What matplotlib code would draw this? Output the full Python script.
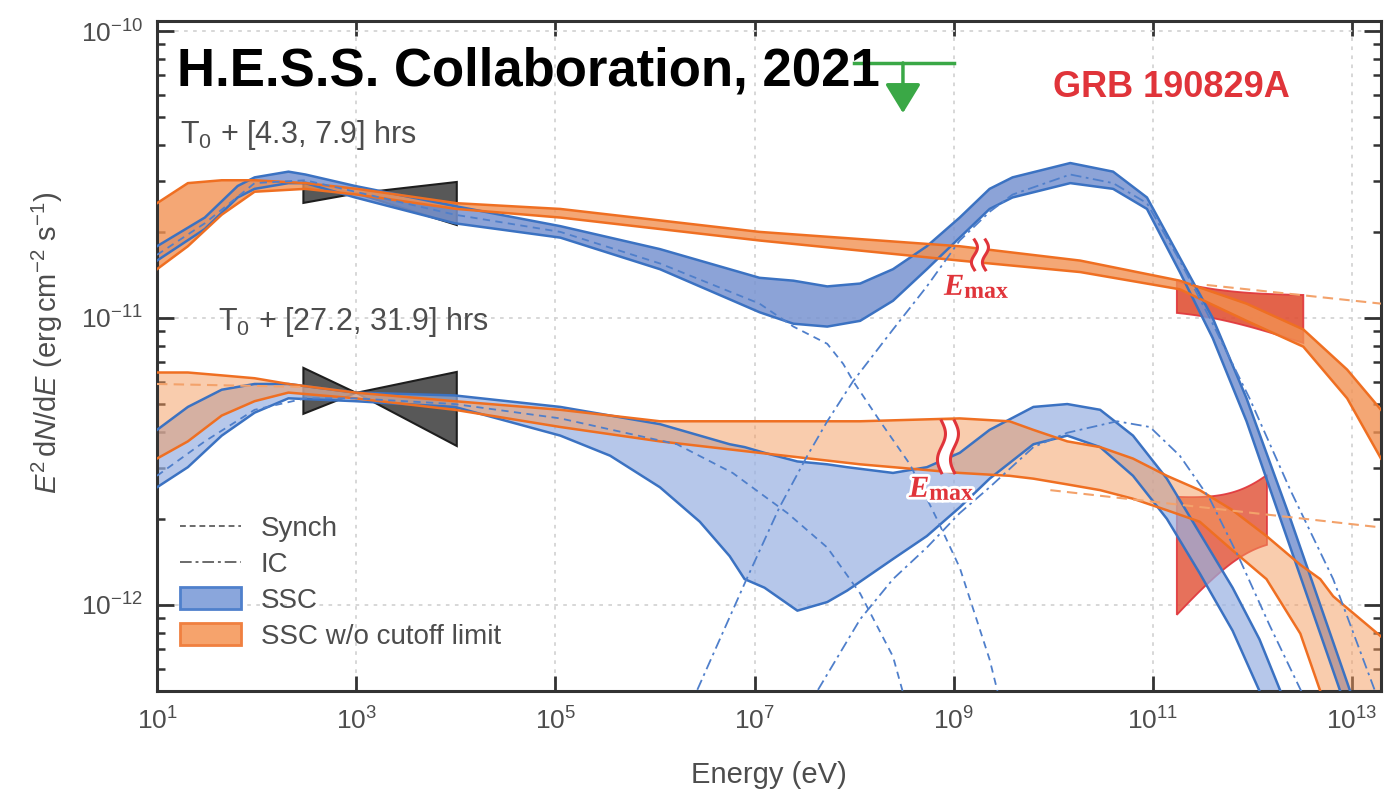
import numpy as np
import matplotlib
matplotlib.use('Agg')
import matplotlib.pyplot as plt
from matplotlib.patches import Patch, Polygon
from matplotlib.lines import Line2D
from matplotlib.transforms import ScaledTranslation
from matplotlib.ticker import FixedLocator, NullLocator, LogLocator, NullFormatter, FuncFormatter
import matplotlib.patheffects as pe

plt.rcParams['font.family'] = ['Liberation Sans', 'DejaVu Sans']
plt.rcParams['mathtext.fontset'] = 'custom'
plt.rcParams['mathtext.rm'] = 'Liberation Sans'
plt.rcParams['mathtext.it'] = 'Liberation Sans:italic'
plt.rcParams['mathtext.bf'] = 'Liberation Sans:bold'

# ------------------------------------------------------------------
# Data: log10(E / eV) and log10(E^2 dN/dE / erg cm^-2 s^-1)
# ------------------------------------------------------------------
# Epoch 1: T0 + [4.3, 7.9] hrs
ep1_nocut_loge = [1.00, 1.31, 1.65, 1.98, 2.49, 3.01, 4.01, 5.05, 7.05, 9.06,
                  10.27, 11.27, 11.94, 12.51, 12.95, 13.29]
ep1_nocut_hi = [-10.60, -10.53, -10.52, -10.52, -10.53, -10.55, -10.60, -10.62, -10.70, -10.75,
                -10.80, -10.87, -10.95, -11.04, -11.18, -11.32]
ep1_nocut_lo = [-10.83, -10.75, -10.64, -10.56, -10.55, -10.57, -10.62, -10.65, -10.73, -10.80,
                -10.84, -10.90, -11.01, -11.10, -11.28, -11.49]

ep1_ssc_loge = [1.00, 1.48, 1.81, 1.98, 2.32, 2.49, 2.99, 3.99, 5.05, 6.05, 7.05, 7.39, 7.73,
                8.06, 8.39, 8.73, 9.06, 9.36, 9.59, 10.17, 10.60, 10.94, 11.27, 11.60, 11.94,
                12.38, 12.88, 13.13]
ep1_ssc_hi = [-10.75, -10.65, -10.54, -10.51, -10.49, -10.50, -10.54, -10.61, -10.68, -10.76,
              -10.86, -10.87, -10.89, -10.88, -10.83, -10.75, -10.65, -10.55, -10.51, -10.46,
              -10.49, -10.58, -10.79, -11.00, -11.28, -11.70, -12.20, -12.45]
ep1_ssc_lo = [-10.80, -10.69, -10.58, -10.55, -10.53, -10.53, -10.58, -10.67, -10.72, -10.83,
              -10.98, -11.02, -11.03, -11.01, -10.94, -10.83, -10.72, -10.62, -10.58, -10.53,
              -10.55, -10.62, -10.84, -11.07, -11.36, -11.80, -12.30, -12.56]

ep1_syn_loge = [1.00, 1.48, 1.98, 2.49, 2.99, 3.99, 5.05, 6.05, 7.05, 7.39, 7.73, 7.89, 7.99,
                8.26, 8.56, 8.83, 9.06, 9.36, 9.46]
ep1_syn = [-10.78, -10.67, -10.53, -10.52, -10.56, -10.64, -10.70, -10.81, -10.95, -11.03,
           -11.09, -11.16, -11.22, -11.36, -11.51, -11.70, -11.87, -12.19, -12.33]

ep1_ic_loge = [6.35, 6.42, 6.92, 7.25, 7.53, 7.73, 7.99, 8.39, 8.73, 9.06, 9.36, 9.59, 10.17,
               10.60, 10.94, 11.27, 11.60, 11.97, 12.38, 12.81, 13.23, 13.33]
ep1_ic = [-12.37, -12.30, -11.91, -11.66, -11.48, -11.36, -11.22, -11.04, -10.89, -10.73,
          -10.63, -10.57, -10.50, -10.53, -10.60, -10.80, -11.02, -11.28, -11.60, -11.91,
          -12.30, -12.40]

ep1_nocut_ext_loge = [11.54, 13.29]
ep1_nocut_ext = [-10.885, -10.95]

# Epoch 2: T0 + [27.2, 31.9] hrs
ep2_nocut_loge = [1.00, 1.31, 1.65, 1.98, 2.32, 2.99, 3.99, 5.05, 6.05, 7.05, 8.06, 9.06, 9.56,
                  9.80, 10.14, 10.47, 10.80, 11.14, 11.47, 11.80, 12.14, 12.48, 12.68, 12.81, 13.29]
ep2_nocut_hi = [-11.19, -11.19, -11.20, -11.21, -11.23, -11.26, -11.29, -11.32, -11.36, -11.36,
                -11.36, -11.35, -11.36, -11.39, -11.43, -11.45, -11.49, -11.55, -11.60, -11.67,
                -11.76, -11.86, -11.91, -11.97, -12.11]
ep2_nocut_lo = [-11.49, -11.43, -11.34, -11.29, -11.26, -11.28, -11.32, -11.38, -11.43, -11.47,
                -11.51, -11.54, -11.55, -11.56, -11.58, -11.60, -11.63, -11.67, -11.71, -11.81,
                -11.91, -12.10, -12.30, -12.40, -12.85]

ep2_ssc_loge = [1.00, 1.31, 1.65, 1.98, 2.32, 2.99, 3.99, 5.05, 5.55, 6.05, 6.45, 6.75, 6.90,
                7.10, 7.43, 7.73, 7.93, 8.39, 8.73, 9.06, 9.36, 9.80, 10.14, 10.47, 10.80,
                11.14, 11.47, 11.80, 12.07, 12.28, 12.48]
ep2_ssc_hi = [-11.39, -11.31, -11.25, -11.23, -11.23, -11.26, -11.27, -11.31, -11.34, -11.37,
              -11.41, -11.44, -11.45, -11.47, -11.50, -11.51, -11.52, -11.54, -11.52, -11.47,
              -11.39, -11.31, -11.30, -11.32, -11.41, -11.56, -11.75, -11.94, -12.12, -12.30,
              -12.49]
ep2_ssc_lo = [-11.59, -11.52, -11.41, -11.33, -11.28, -11.29, -11.31, -11.41, -11.48, -11.59,
              -11.71, -11.83, -11.91, -11.94, -12.02, -11.99, -11.95, -11.84, -11.76, -11.66,
              -11.56, -11.44, -11.41, -11.45, -11.55, -11.70, -11.89, -12.09, -12.30, -12.49,
              -12.68]

ep2_syn_loge = [1.00, 1.48, 1.98, 2.49, 2.99, 3.99, 5.05, 6.22, 6.78, 7.33, 7.73, 8.06, 8.39, 8.51]
ep2_syn = [-11.55, -11.43, -11.32, -11.28, -11.28, -11.30, -11.35, -11.44, -11.54, -11.68,
           -11.80, -11.96, -12.18, -12.33]

ep2_ic_loge = [7.56, 7.63, 8.06, 8.39, 8.73, 9.06, 9.36, 9.80, 10.14, 10.64, 10.97, 11.27,
               11.57, 11.87, 12.17, 12.53]
ep2_ic = [-12.37, -12.30, -12.05, -11.91, -11.80, -11.68, -11.59, -11.45, -11.40, -11.36,
          -11.38, -11.48, -11.63, -11.84, -12.07, -12.33]

ep2_nocut_ext_loge = [9.97, 13.29]
ep2_nocut_ext = [-11.60, -11.73]
ep2_nocut_low_loge = [1.00, 2.44]
ep2_nocut_low = [-11.23, -11.24]

# X-ray bow-ties: [log Emin, log Epivot, log Emax], fluxes (left hi, left lo, pivot, right hi, right lo)
xrt_loge = [2.47, 3.00, 4.01]
xrt1_flux = [-10.526, -10.599, -10.566, -10.526, -10.676]
xrt2_flux = [-11.174, -11.334, -11.261, -11.188, -11.446]

# H.E.S.S. butterflies: log Emin, log Emax, log Epivot, log F(pivot), slope, sigma_norm, sigma_slope
hess1 = dict(emin=11.24, emax=12.51, epiv=11.52, fpiv=-10.945, slope=-0.059, sn=0.0506, ss=0.0675)
hess2 = dict(emin=11.24, emax=12.145, epiv=11.974, fpiv=-11.699, slope=0.177, sn=0.1154, ss=0.232)

# Fermi-LAT upper limit
ul_emin, ul_emax, ul_ecen = 1e8, 1e9, 10**8.49
ul_flux = 10**-10.111
ul_tip = 10**-10.286

# E_max markers (log E, log F)
emax1 = (9.263, -10.780)
emax2 = (8.942, -11.449)

# ------------------------------------------------------------------
BLUE = '#3b72c2'
BLUE_FILL1 = '#7893d0'
BLUE_FILL2 = '#97b0e2'
ORANGE = '#ef6f22'
ORANGE_FILL = '#f59a5c'
RED = '#e0343a'
GREEN = '#3aa846'
GREY_TXT = '#4d4d4d'

fig = plt.figure(figsize=(14, 7.97), dpi=100)
ax = fig.add_axes([157 / 1400, 1 - 691 / 797, 1224 / 1400, 670 / 797])
ax.set_xscale('log')
ax.set_yscale('log')


def p(v):
    return 10.0 ** np.asarray(v, dtype=float)


def band(loge, lo, hi, fill, alpha):
    e = p(loge)
    ax.fill_between(e, p(lo), p(hi), facecolor=fill, alpha=alpha, lw=0, zorder=2)
    return e


# SSC bands
e = band(ep1_ssc_loge, ep1_ssc_lo, ep1_ssc_hi, BLUE_FILL1, 0.85)
e2 = band(ep2_ssc_loge, ep2_ssc_lo, ep2_ssc_hi, BLUE_FILL2, 0.7)
# SSC without cutoff limit
eo1 = band(ep1_nocut_loge, ep1_nocut_lo, ep1_nocut_hi, '#f29152', 0.8)
eo2 = band(ep2_nocut_loge, ep2_nocut_lo, ep2_nocut_hi, ORANGE_FILL, 0.5)

for ee, lo, hi in [(e, ep1_ssc_lo, ep1_ssc_hi), (e2, ep2_ssc_lo, ep2_ssc_hi)]:
    ax.plot(ee, p(lo), color=BLUE, lw=1.8, zorder=4)
    ax.plot(ee, p(hi), color=BLUE, lw=1.8, zorder=4)
for ee, lo, hi in [(eo1, ep1_nocut_lo, ep1_nocut_hi), (eo2, ep2_nocut_lo, ep2_nocut_hi)]:
    ax.plot(ee, p(lo), color=ORANGE, lw=1.8, zorder=4)
    ax.plot(ee, p(hi), color=ORANGE, lw=1.8, zorder=4)

# Synchrotron and IC components
for le, f in [(ep1_syn_loge, ep1_syn), (ep2_syn_loge, ep2_syn)]:
    ax.plot(p(le), p(f), color='#4f7fcb', lw=1.3, ls=(0, (4, 3)), zorder=4.5)
for le, f in [(ep1_ic_loge, ep1_ic), (ep2_ic_loge, ep2_ic)]:
    ax.plot(p(le), p(f), color='#4f7fcb', lw=1.3, ls=(0, (6, 2.5, 1.5, 2.5)), zorder=4.5)

# No-cutoff continuations
for le, f in [(ep1_nocut_ext_loge, ep1_nocut_ext), (ep2_nocut_ext_loge, ep2_nocut_ext),
              (ep2_nocut_low_loge, ep2_nocut_low)]:
    ax.plot(p(le), p(f), color='#f3a26b', lw=1.5, ls=(0, (5, 3)), zorder=4.5)


# X-ray bow-ties
def bowtie(le, fl):
    lh, ll, pv, rh, rl = fl
    verts = [(p(le[0]), p(lh)), (p(le[1]), p(pv)), (p(le[2]), p(rh)),
             (p(le[2]), p(rl)), (p(le[1]), p(pv)), (p(le[0]), p(ll))]
    ax.add_patch(Polygon(verts, closed=True, facecolor='#585858', edgecolor='#1e1e1e',
                         lw=1.5, zorder=1.5))


bowtie(xrt_loge, xrt1_flux)
bowtie(xrt_loge, xrt2_flux)


# H.E.S.S. butterflies
def butterfly(d, fc):
    x = np.linspace(d['emin'], d['emax'], 80)
    dx = x - d['epiv']
    c = d['fpiv'] + d['slope'] * dx
    w = np.sqrt(d['sn'] ** 2 + (d['ss'] * dx) ** 2)
    ax.fill(np.r_[p(x), p(x[::-1])], np.r_[p(c + w), p((c - w)[::-1])],
            facecolor=fc, edgecolor=RED, lw=1.3, alpha=0.9, zorder=1.6)


butterfly(hess1, '#e05236')
butterfly(hess2, '#e46249')

# Upper limit
ax.plot([ul_emin, ul_emax], [ul_flux, ul_flux], color=GREEN, lw=2.5, zorder=5)
ax.annotate('', xy=(ul_ecen, ul_tip), xytext=(ul_ecen, ul_flux),
            arrowprops=dict(arrowstyle='-|>,head_length=0.9,head_width=0.55',
                            color=GREEN, lw=2.5, mutation_scale=20, shrinkA=0, shrinkB=0),
            zorder=5)


# E_max markers
def emax_marker(pt, h_px, gap_px, amp_px, text_dx, text_dy, size):
    xd, yd = p(pt[0]), p(pt[1])
    tr = fig.dpi_scale_trans + ScaledTranslation(xd, yd, ax.transData)
    t = np.linspace(-0.5, 0.5, 80)
    y = t * h_px / 100.0
    wave = amp_px / 100.0 * np.sin(2 * np.pi * t)
    xl = -gap_px / 200.0 + wave
    xr = gap_px / 200.0 + wave
    ax.fill(np.r_[xl, xr[::-1]], np.r_[y, y[::-1]], color='white', transform=tr,
            zorder=6, lw=0)
    ax.plot(xl, y, color=RED, lw=2.2, transform=tr, zorder=6.1)
    ax.plot(xr, y, color=RED, lw=2.2, transform=tr, zorder=6.1)
    halo = [pe.withStroke(linewidth=4, foreground='white')]
    ax.text(text_dx / 100.0, text_dy / 100.0, 'E', transform=tr, color=RED,
            family='Liberation Serif', style='italic', weight='bold', fontsize=size,
            ha='left', va='baseline', zorder=6.2, path_effects=halo)
    ax.text((text_dx + 0.92 * size) / 100.0, (text_dy - 3) / 100.0, 'max', transform=tr,
            color=RED, family='Liberation Serif', weight='bold', fontsize=size * 0.78,
            ha='left', va='baseline', zorder=6.2, path_effects=halo)


emax_marker(emax1, 30, 11, 3, -36, -40, 22)
emax_marker(emax2, 52, 13, 4, -39, -50, 22)

# Axes styling
ax.set_xlim(10 ** 1, 10 ** 13.29)
ax.set_ylim(10 ** -12.30, 10 ** -9.965)

ax.xaxis.set_major_locator(FixedLocator([10.0 ** k for k in range(1, 14, 2)]))
ax.xaxis.set_minor_locator(NullLocator())
ax.xaxis.set_major_formatter(FuncFormatter(lambda v, _: r'$10^{%d}$' % round(np.log10(v))))
ax.yaxis.set_major_locator(FixedLocator([1e-12, 1e-11, 1e-10]))
ax.yaxis.set_minor_locator(LogLocator(base=10, subs=np.arange(2, 10), numticks=50))
ax.yaxis.set_minor_formatter(NullFormatter())
ax.yaxis.set_major_formatter(FuncFormatter(lambda v, _: r'$10^{%d}$' % round(np.log10(v))))

ax.tick_params(which='both', direction='in', top=True, right=True, colors='#333333',
               labelcolor=GREY_TXT, labelsize=19)
ax.tick_params(axis='x', which='major', length=11, width=2, pad=12)
ax.tick_params(axis='y', which='major', length=12, width=2, pad=10)
ax.tick_params(axis='y', which='minor', length=6, width=1.8)
for s in ax.spines.values():
    s.set_color('#333333')
    s.set_linewidth(2.2)
ax.set_axisbelow(True)
ax.grid(True, which='major', color='#d4d4d4', ls=(0, (2, 3)), lw=1.3)

ax.set_xlabel('Energy (eV)', fontsize=21, color=GREY_TXT)
ax.xaxis.set_label_coords(0.5, -0.105)
ax.xaxis.label.set_va('top')
ax.set_ylabel(r'$E^2\,\mathrm{d}N/\mathrm{d}E$ (erg$\,$cm$^{-2}$ s$^{-1}$)', fontsize=21,
              color=GREY_TXT)
ax.yaxis.set_label_coords(-0.075, 0.52)

# Legend
handles = [Line2D([], [], color='#6a6a6a', lw=1.4, ls=(0, (3, 2))),
           Line2D([], [], color='#6a6a6a', lw=1.4, ls=(0, (6, 2, 1.5, 2))),
           Patch(facecolor='#8aa6dc', edgecolor='#4f80cc', lw=2),
           Patch(facecolor='#f6a36c', edgecolor='#f08040', lw=2)]
labels = ['Synch', 'IC', 'SSC', 'SSC w/o cutoff limit']
leg = ax.legend(handles, labels, loc='upper left', bbox_to_anchor=(0.019, 0.262),
                frameon=False, fontsize=20, handlelength=2.2, handleheight=0.8,
                handletextpad=0.7, labelspacing=0.35, borderpad=0, borderaxespad=0)
for t in leg.get_texts():
    t.set_color(GREY_TXT)

# Annotations
fig.text(177 / 1400, 1 - 85 / 797, 'H.E.S.S. Collaboration, 2021', fontsize=38,
         weight='bold', color='black', ha='left', va='baseline', zorder=10)
fig.text(1053 / 1400, 1 - 97 / 797, 'GRB 190829A', fontsize=26, weight='bold',
         color=RED, ha='left', va='baseline')
fig.text(180 / 1400, 1 - 143 / 797, r'T$_0$ + [4.3, 7.9] hrs', fontsize=22,
         color=GREY_TXT, ha='left', va='baseline')
fig.text(218 / 1400, 1 - 330 / 797, r'T$_0$ + [27.2, 31.9] hrs', fontsize=22,
         color=GREY_TXT, ha='left', va='baseline')

fig.savefig('out.png', dpi=100, facecolor='white')
